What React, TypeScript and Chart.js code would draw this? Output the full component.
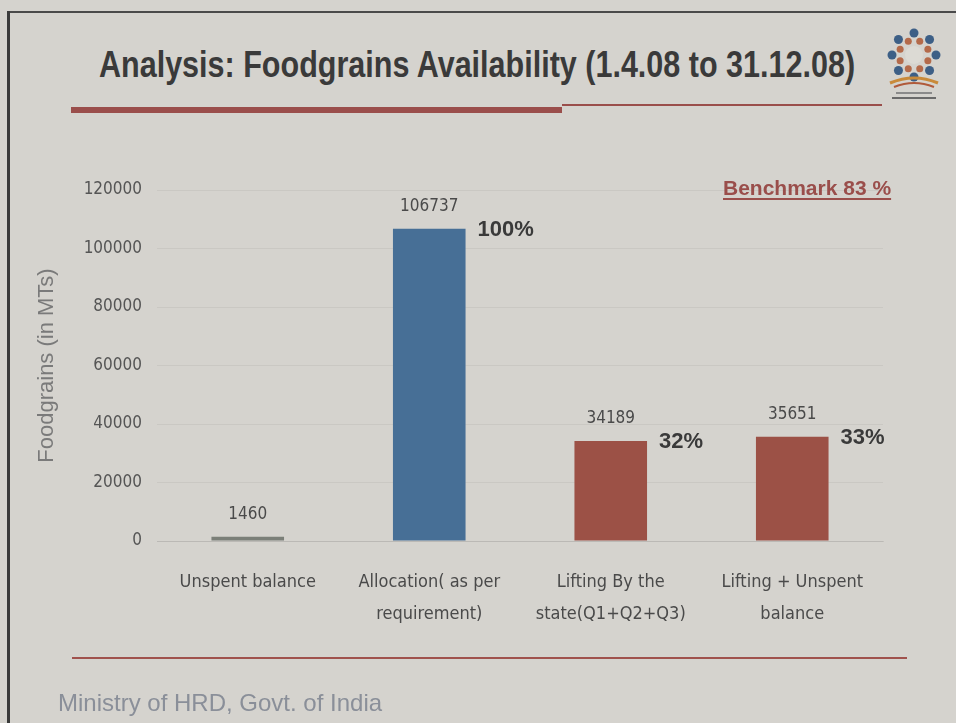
import React, { useEffect, useRef } from "react";
import { Chart, registerables } from "chart.js";

Chart.register(...registerables);

const categories: string[][] = [
  ["Unspent balance"],
  ["Allocation( as per", "requirement)"],
  ["Lifting By the", "state(Q1+Q2+Q3)"],
  ["Lifting + Unspent", "balance"],
];
const values: number[] = [1460, 106737, 34189, 35651];
const percentLabels: string[] = ["", "100%", "32%", "33%"];
const barColors: string[] = ["#7b7f78", "#476f96", "#9c5146", "#9c5146"];
const yTicks: number[] = [0, 20000, 40000, 60000, 80000, 100000, 120000];

const COND = "'DejaVu Sans Condensed', 'Liberation Sans Narrow', sans-serif";
const ARIAL = "'Liberation Sans', Arial, sans-serif";

const labelPlugin = {
  id: "barLabels",
  afterDatasetsDraw(chart: any) {
    const ctx = chart.ctx;
    const meta = chart.getDatasetMeta(0);
    ctx.save();
    meta.data.forEach((bar: any, i: number) => {
      const v = values[i];
      ctx.font = `17px ${COND}`;
      ctx.fillStyle = "#4a4a4a";
      ctx.textAlign = "center";
      ctx.textBaseline = "middle";
      ctx.fillText(String(v), bar.x, bar.y - 22);
      const p = percentLabels[i];
      if (p) {
        ctx.font = `bold 22px ${ARIAL}`;
        ctx.fillStyle = "#3a3a3a";
        ctx.textAlign = "left";
        ctx.fillText(p, bar.x + bar.width / 2 + 12, bar.y + 1);
      }
    });
    ctx.restore();
  },
};

function Logo() {
  const pts = Array.from({ length: 8 }, (_, k) => k);
  return (
    <svg width={64} height={76} viewBox="0 0 64 76" style={{ position: "absolute", left: 882, top: 27 }}>
      {pts.map((k) => {
        const a = (k * Math.PI * 2) / 8 - Math.PI / 2;
        const cx = 32 + Math.cos(a) * 22;
        const cy = 28 + Math.sin(a) * 22;
        return <circle key={"o" + k} cx={cx} cy={cy} r={4.5} fill="#3d5f86" />;
      })}
      {pts.map((k) => {
        const a = (k * Math.PI * 2) / 8 - Math.PI / 2 + Math.PI / 8;
        const cx = 32 + Math.cos(a) * 15;
        const cy = 28 + Math.sin(a) * 15;
        return <circle key={"i" + k} cx={cx} cy={cy} r={3.5} fill="#b46a4a" />;
      })}
      <circle cx={32} cy={28} r={9} fill="#dcdad4" />
      <path d="M8 56 Q32 46 56 56" stroke="#c98a3a" strokeWidth={3} fill="none" />
      <path d="M12 60 Q32 52 52 60" stroke="#b05a3a" strokeWidth={2} fill="none" />
      <rect x={14} y={65} width={36} height={2} fill="#8a8a8a" />
      <rect x={10} y={70} width={44} height={2} fill="#6a6a6a" />
    </svg>
  );
}

export default function App() {
  const canvasRef = useRef<HTMLCanvasElement | null>(null);

  useEffect(() => {
    document.body.style.margin = "0";
    const canvas = canvasRef.current;
    if (!canvas) return;
    const chart = new Chart(canvas, {
      type: "bar",
      data: {
        labels: categories,
        datasets: [
          {
            data: values,
            backgroundColor: barColors,
            borderWidth: 0,
            barPercentage: 0.4,
            categoryPercentage: 1,
          },
        ],
      },
      options: {
        animation: false,
        responsive: false,
        maintainAspectRatio: false,
        layout: { padding: { left: 0, top: 190, right: 73, bottom: 92 } },
        plugins: {
          legend: { display: false },
          tooltip: { enabled: false },
        },
        scales: {
          x: {
            grid: { display: false, drawTicks: false },
            border: { display: true, color: "rgba(0,0,0,0.08)" },
            ticks: {
              font: { family: COND, size: 18, lineHeight: 1.75 },
              color: "#4a4a4a",
              padding: 26,
              maxRotation: 0,
              autoSkip: false,
            },
            afterFit: (s: any) => {
              s.height = 90;
            },
          },
          y: {
            min: 0,
            max: 120000,
            afterBuildTicks: (s: any) => {
              s.ticks = yTicks.map((v) => ({ value: v }));
            },
            ticks: {
              font: { family: COND, size: 17 },
              color: "#555555",
              padding: 15,
              callback: (v: any) => String(v),
            },
            grid: { color: "rgba(0,0,0,0.05)", drawTicks: false },
            border: { display: false },
            title: {
              display: true,
              text: "Foodgrains (in MTs)",
              font: { family: ARIAL, size: 22 },
              color: "#7a7a7a",
              padding: { top: 34, bottom: 0 },
            },
            afterFit: (s: any) => {
              s.width = 157;
            },
          },
        },
      },
      plugins: [labelPlugin],
    });
    return () => chart.destroy();
  }, []);

  return (
    <div
      style={{
        position: "relative",
        width: 956,
        height: 723,
        background: "#d5d3ce",
        overflow: "hidden",
        fontFamily: ARIAL,
      }}
    >
      <div style={{ position: "absolute", left: 8, top: 11, width: 948, height: 2, background: "#4a4a4a" }} />
      <div style={{ position: "absolute", left: 7, top: 11, width: 3, height: 712, background: "#3a3a3a" }} />
      <div
        style={{
          position: "absolute",
          left: 99,
          top: 42,
          whiteSpace: "nowrap",
          fontWeight: "bold",
          fontSize: 37,
          lineHeight: "46px",
          color: "#3a3a3a",
          transform: "scaleX(0.825)",
          transformOrigin: "0 0",
        }}
      >
        Analysis: Foodgrains Availability (1.4.08 to 31.12.08)
      </div>
      <div style={{ position: "absolute", left: 71, top: 107, width: 491, height: 6, background: "#9a4e4b" }} />
      <div style={{ position: "absolute", left: 562, top: 104, width: 320, height: 2, background: "#9a4e4b" }} />
      <Logo />
      <canvas
        ref={canvasRef}
        width={956}
        height={723}
        style={{ position: "absolute", left: 0, top: 0, width: 956, height: 723 }}
      />
      <div
        style={{
          position: "absolute",
          left: 723,
          top: 176,
          whiteSpace: "nowrap",
          fontWeight: "bold",
          fontSize: 21,
          lineHeight: "24px",
          color: "#9a4e4b",
          textDecoration: "underline",
          textDecorationThickness: 2,
          textUnderlineOffset: 3,
        }}
      >
        Benchmark 83 %
      </div>
      <div style={{ position: "absolute", left: 72, top: 657, width: 835, height: 2, background: "#a0524d" }} />
      <div
        style={{
          position: "absolute",
          left: 58,
          top: 689,
          whiteSpace: "nowrap",
          fontSize: 24,
          lineHeight: "28px",
          color: "#8a8f99",
        }}
      >
        Ministry of HRD, Govt. of India
      </div>
    </div>
  );
}
